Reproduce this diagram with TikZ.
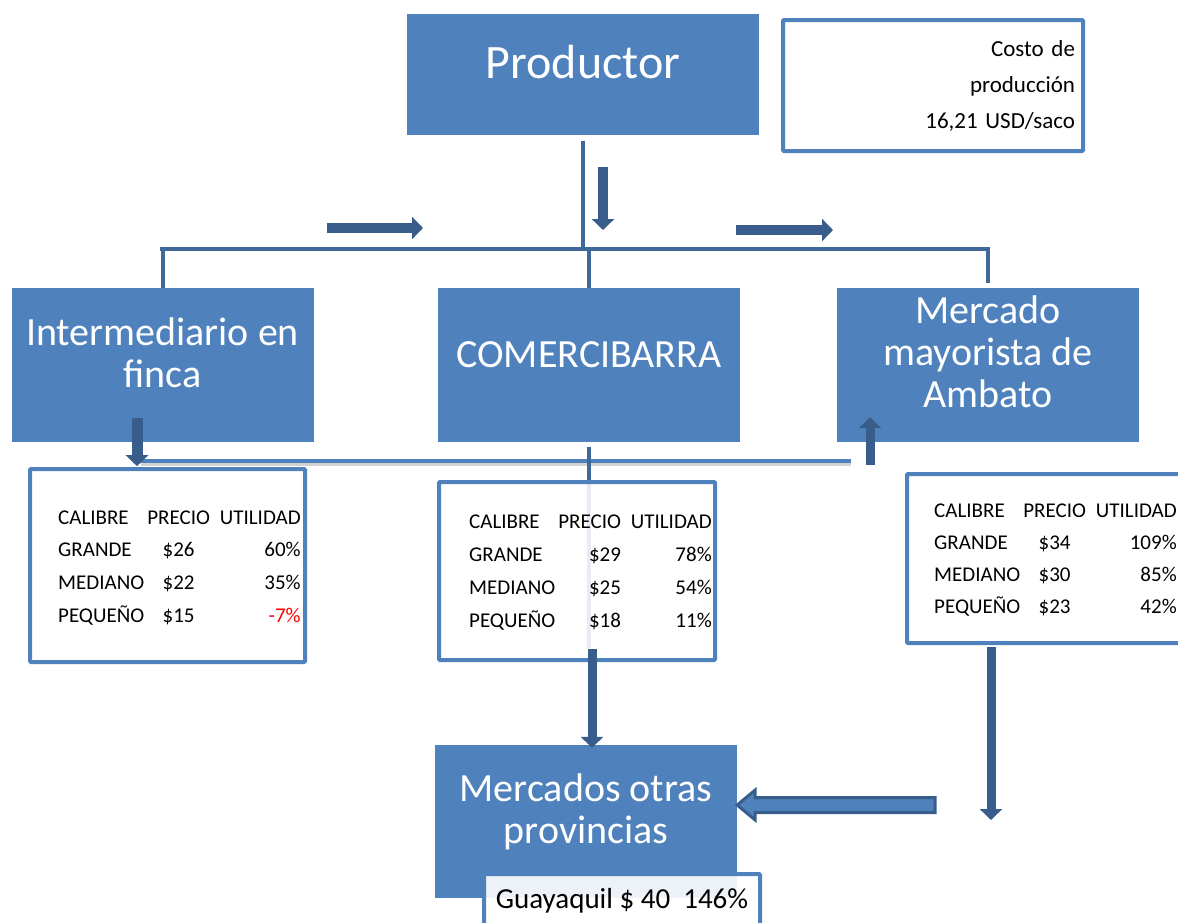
\documentclass[tikz,border=0pt]{standalone}
\usepackage{fontspec}
\setmainfont{Carlito}
\usetikzlibrary{arrows.meta}
\definecolor{azulcaja}{RGB}{79,129,189}
\definecolor{azullinea}{RGB}{64,105,155}
\definecolor{azulflecha}{RGB}{56,93,138}

\begin{document}
\begin{tikzpicture}[x=1pt,y=-1pt]
    \tikzset{caja/.style = {shape=rectangle,fill=azulcaja,inner sep=0pt}}
    \tikzset{marco/.style = {shape=rectangle,draw=azulcaja,line width=4pt,fill=white,inner sep=0pt,rounded corners=1pt}}
    \tikzset{titulo/.style = {text=white,align=center,anchor=base,inner sep=0pt,font=\fontsize{40}{42}\selectfont}}
    \tikzset{tabla/.style = {anchor=base west,inner sep=0pt,font=\fontsize{21}{32.7}\selectfont}}
    \tikzset{linea/.style = {draw=azullinea,line width=4.5pt}}
    \tikzset{flecha/.style = {-{Triangle[width=22pt,length=11pt]},draw=azulflecha,line width=9pt}}
    \useasboundingbox (0,0) rectangle (1178,922);
    \clip (0,0) rectangle (1178,922);
    % cajas
    \node[caja,minimum width=352,minimum height=121] (prod) at (583,74.5) {};
    \node[caja,minimum width=302,minimum height=154] (inter) at (163,365) {};
    \node[caja,minimum width=302,minimum height=154] (comer) at (589,365) {};
    \node[caja,minimum width=302,minimum height=154] (merc) at (988,365) {};
    \node[titulo,font=\fontsize{48}{50}\selectfont] (prodT) at (583,78) {Productor};
    \node[titulo] (interT) at (162.5,387) {Intermediario en\\finca};
    \node[titulo] (comerT) at (589,367) {COMERCIBARRA};
    \node[titulo] (mercT) at (988,407) {Mercado\\mayorista de\\Ambato};
    \node[marco,minimum width=300,minimum height=131,text width=284,inner xsep=8pt,align=right,
          font=\fontsize{23}{36}\selectfont] (costo) at (933,85.5) {Costo de\\producción\\16,21 USD/saco};
    % lineas
    \coordinate (busL) at (160,249);
    \coordinate (busR) at (990,249);
    \draw[linea] ([yshift=-6]prod.south) -- ([yshift=-2]prod.south |- busL);
    \draw[linea] (busL) -- (busR);
    \draw[linea] (inter.north |- busL) -- (inter.north);
    \draw[linea] (comer.north |- busL) -- (comer.north);
    \draw[linea] (merc.north |- busL) -- ([yshift=5]merc.north);
    \coordinate (fa1) at (327,228);
    \coordinate (fb1) at (423,228);
    \coordinate (fa2) at (736,230);
    \coordinate (fb2) at (833,230);
    \coordinate (fa3) at (603,167);
    \coordinate (fb3) at (603,230);
    \draw[flecha,line width=10pt] (fa1) -- (fb1);
    \draw[flecha,line width=10pt] (fa2) -- (fb2);
    \draw[flecha,line width=10pt] (fa3) -- (fb3);
    \coordinate (cruceL) at (141,461);
    \coordinate (cruceR) at (851,461);
    \draw[black!35,line width=3pt,opacity=0.5] ([yshift=-3]cruceL) -- ([yshift=-3]cruceR);
    \draw[azulcaja,line width=4.5pt] (cruceL) -- (cruceR);
    \draw[linea] ([yshift=-5]comer.south) -- ++(0,201);
    % tablas
    \node[marco,minimum width=275,minimum height=193] (tab1) at (167.5,565.5) {};
    \node[marco,minimum width=276,minimum height=178,fill opacity=0.88,text opacity=1] (tab2) at (577,571) {};
    \node[marco,minimum width=283,minimum height=169] (tab3) at (1048.5,558.5) {};
    \node[tabla] (tab1T) at (58,524) {\begin{tabular}[t]{@{}l@{\hspace{3pt}}c@{\hspace{10pt}}r@{}}
        CALIBRE & PRECIO & UTILIDAD\\
        GRANDE & \$26 & 60\%\\
        MEDIANO & \$22 & 35\%\\
        PEQUEÑO & \$15 & \textcolor{red}{-7\%}
    \end{tabular}};
    \node[tabla,font=\fontsize{21}{33}\selectfont] (tab2T) at (469,528) {\begin{tabular}[t]{@{}l@{\hspace{3pt}}r@{\hspace{10pt}}r@{}}
        CALIBRE & PRECIO & UTILIDAD\\
        GRANDE & \$29 & 78\%\\
        MEDIANO & \$25 & 54\%\\
        PEQUEÑO & \$18 & 11\%
    \end{tabular}};
    \node[tabla,font=\fontsize{21}{32}\selectfont] (tab3T) at (934,517) {\begin{tabular}[t]{@{}l@{\hspace{3pt}}c@{\hspace{10pt}}r@{}}
        CALIBRE & PRECIO & UTILIDAD\\
        GRANDE & \$34 & 109\%\\
        MEDIANO & \$30 & 85\%\\
        PEQUEÑO & \$23 & 42\%
    \end{tabular}};
    \draw[flecha,line width=11pt] ([xshift=-26,yshift=24]inter.south) -- ++(0,48);
    \draw[flecha] ([xshift=-118,yshift=-23]merc.south) -- ++(0,-48);
    % mercados otras provincias
    \node[caja,minimum width=302,minimum height=153] (prov) at (586,821.5) {};
    \node[titulo] (provT) at (586,843) {Mercados otras\\provincias};
    \draw[flecha] ([xshift=15,yshift=13]tab2.south) -- ([xshift=6,yshift=-3]prov.north);
    \draw[flecha] ([xshift=-57.5,yshift=-2]tab3.south) -- ++(0,173);
    \coordinate (provIn) at ([yshift=16.5]prov.east);
    \draw[fill=azulcaja,draw=azulflecha,line width=3pt] (provIn) -- ++(18,-15) -- ++(0,7.5) -- ++(180,0)
        -- ++(0,15) -- ++(-180,0) -- ++(0,7.5) -- cycle;
    \node[marco,minimum width=276,minimum height=54,fill opacity=0.9,text opacity=1,
          font=\fontsize{29}{31}\selectfont] (guay) at (622,901) {Guayaquil \$ 40\ \ 146\%};
\end{tikzpicture}
\end{document}
